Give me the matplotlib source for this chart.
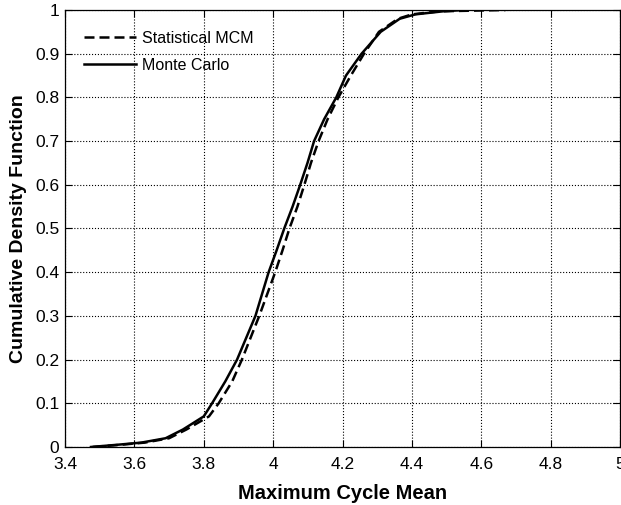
import matplotlib
matplotlib.use('Agg')
import matplotlib.pyplot as plt
import numpy as np

# CDF levels and the x values
cdf_levels = [0, 0.005, 0.01, 0.02, 0.04, 0.07, 0.1, 0.15, 0.2, 0.3, 0.4, 0.45,
              0.5, 0.55, 0.6, 0.65, 0.7, 0.75, 0.8, 0.85, 0.9, 0.95, 0.98, 0.99,
              0.997, 1.0]
monte_carlo_x = [3.475, 3.55, 3.62, 3.69, 3.74, 3.80, 3.824, 3.862, 3.896, 3.949,
                 3.987, 4.010, 4.032, 4.056, 4.078, 4.099, 4.118, 4.147, 4.182,
                 4.21, 4.255, 4.31, 4.365, 4.41, 4.49, 4.55]
statistical_x = [3.48, 3.56, 3.63, 3.70, 3.75, 3.815, 3.843, 3.882, 3.91, 3.96,
                 4.006, 4.027, 4.047, 4.070, 4.090, 4.109, 4.131, 4.157, 4.188,
                 4.224, 4.262, 4.305, 4.36, 4.40, 4.48, 4.67]

xticks = [3.4, 3.6, 3.8, 4, 4.2, 4.4, 4.6, 4.8, 5]
yticks = [0, 0.1, 0.2, 0.3, 0.4, 0.5, 0.6, 0.7, 0.8, 0.9, 1]

plt.rcParams['font.family'] = ['Liberation Sans', 'DejaVu Sans']

fig = plt.figure(figsize=(6.21, 5.05), dpi=100)
ax = fig.add_axes([0.1047, 0.1149, 0.8937, 0.8653])

ax.plot(statistical_x, cdf_levels, color='black', lw=1.8, ls=(0, (4, 2)),
        label='Statistical MCM')
ax.plot(monte_carlo_x, cdf_levels, color='black', lw=1.8, label='Monte Carlo')

ax.set_xlim(3.4, 5)
ax.set_ylim(0, 1)
ax.set_xticks(xticks)
ax.set_yticks(yticks)
ax.set_xticklabels(['3.4', '3.6', '3.8', '4', '4.2', '4.4', '4.6', '4.8', '5'])
ax.set_yticklabels(['0', '0.1', '0.2', '0.3', '0.4', '0.5', '0.6', '0.7', '0.8', '0.9', '1'])
ax.tick_params(direction='in', top=True, right=True, labelsize=12.5, length=5, width=0.8)
ax.tick_params(axis='x', pad=7)
ax.tick_params(axis='y', pad=4)
ax.grid(True, ls=':', color='black', lw=0.8)
for s in ax.spines.values():
    s.set_linewidth(0.9)

ax.set_xlabel('Maximum Cycle Mean', fontsize=14.5, fontweight='bold', labelpad=9)
ax.set_ylabel('Cumulative Density Function', fontsize=14, fontweight='bold', labelpad=6)

ax.legend(loc='upper left', bbox_to_anchor=(0.035, 0.953), frameon=False, fontsize=11.5,
          handlelength=3.2, handletextpad=0.4, borderaxespad=0, borderpad=0,
          labelspacing=0.75)

fig.savefig('out.png', dpi=100)
